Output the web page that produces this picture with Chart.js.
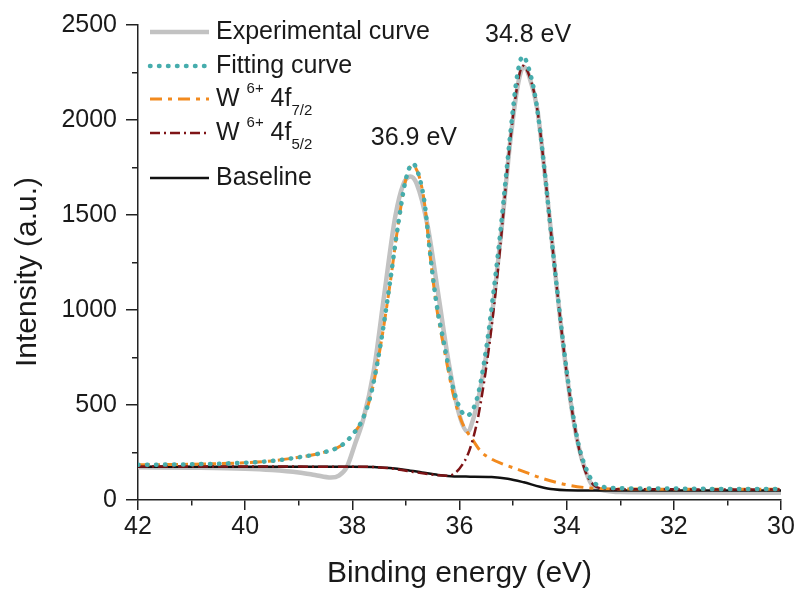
<!DOCTYPE html>
<html>
<head>
<meta charset="utf-8">
<script src="https://cdn.jsdelivr.net/npm/chart.js@4.4.1/dist/chart.umd.min.js"></script>
<style>
  body { margin: 0; background: #fff; }
  #wrap { width: 797px; height: 589px; position: relative; }
</style>
</head>
<body>
<div id="wrap"><canvas id="xpsChart"></canvas></div>
<script>
// binding energy (eV) / intensity (a.u.)
const expX = [42, 41, 40, 39.5, 39, 38.7, 38.4, 38.25, 38.1, 37.95, 37.8, 37.6, 37.4, 37.2, 37.05, 36.92, 36.8, 36.6, 36.4, 36.2, 36.0, 35.85, 35.75, 35.6, 35.4, 35.2, 35.05, 34.9, 34.8, 34.7, 34.55, 34.4, 34.2, 34.0, 33.8, 33.63, 33.5, 33.3, 33, 32, 31, 30];
const expY = [172, 170, 165, 158, 145, 132, 118, 128, 175, 295, 420, 680, 1090, 1490, 1660, 1702, 1665, 1450, 1090, 720, 445, 360, 420, 600, 960, 1470, 1895, 2200, 2280, 2230, 2060, 1700, 1160, 667, 310, 140, 70, 50, 42, 40, 38, 38];

const fitX = [42, 41, 40.2, 39.6, 39, 38.6, 38.2, 37.95, 37.8, 37.65, 37.48, 37.3, 37.15, 37.0, 36.87, 36.75, 36.65, 36.55, 36.42, 36.3, 36.12, 35.97, 35.87, 35.77, 35.65, 35.5, 35.38, 35.24, 35.05, 34.92, 34.82, 34.7, 34.55, 34.4, 34.2, 34.0, 33.8, 33.6, 33.45, 33.3, 33, 32, 31, 30];
const fitY = [185, 188, 194, 203, 225, 246, 288, 360, 430, 560, 807, 1140, 1440, 1690, 1770, 1700, 1560, 1300, 1017, 840, 590, 470, 445, 465, 560, 800, 1060, 1404, 1930, 2240, 2335, 2265, 2060, 1700, 1160, 680, 320, 140, 82, 68, 62, 60, 58, 58];

const f72X = [42, 41, 40.2, 39.6, 39, 38.6, 38.2, 37.95, 37.8, 37.65, 37.48, 37.3, 37.15, 37.0, 36.88, 36.75, 36.65, 36.55, 36.42, 36.3, 36.12, 35.97, 35.87, 35.75, 35.6, 35.4, 35.2, 34.9, 34.5, 34.0, 33.6, 33, 32, 31, 30];
const f72Y = [185, 188, 194, 203, 225, 246, 288, 360, 428, 555, 800, 1130, 1440, 1690, 1762, 1700, 1555, 1290, 1000, 815, 560, 420, 365, 315, 255, 215, 190, 160, 118, 80, 64, 58, 57, 56, 56];

const f52X = [42, 40, 38, 37.6, 37.2, 36.8, 36.4, 36.2, 36.05, 35.95, 35.85, 35.75, 35.65, 35.5, 35.38, 35.24, 35.1, 34.95, 34.82, 34.7, 34.55, 34.4, 34.2, 34.0, 33.8, 33.65, 33.5, 33.3, 33, 32, 30];
const f52Y = [176, 176, 175, 174, 163, 145, 130, 128, 150, 185, 235, 320, 440, 700, 960, 1330, 1760, 2130, 2285, 2235, 2060, 1700, 1160, 667, 310, 150, 80, 60, 57, 56, 55];

const baseX = [42, 38, 37.6, 37.3, 37.0, 36.7, 36.4, 36.1, 35.8, 35.4, 35.1, 34.8, 34.5, 34.25, 34.0, 33.5, 33, 32, 30];
const baseY = [175, 175, 174, 168, 158, 145, 132, 124, 123, 121, 112, 93, 70, 56, 51, 50, 50, 50, 50];

const peakLabels = [{ x: 36.85, y: 1905, text: '36.9 eV' }, { x: 34.72, y: 2447, text: '34.8 eV' }];

const FONT = '"Liberation Sans", Arial, sans-serif';
const gray = '#c2c2c2', teal = '#46adad', orange = '#f28a1e', darkRed = '#7e1416', black = '#111111';
const textColor = '#1a1a1a';

function pts(xs, ys) {
    return xs.map((x, i) => ({ x: x, y: ys[i] }));
}

// legend entries: line style + label pieces (main text, superscript, subscript)
const legendRows = [
    { y: 32, color: gray, width: 4.5, dash: [], cap: 'butt', parts: [['Experimental curve', 'n']] },
    { y: 66, color: teal, width: 4.5, dash: [0.5, 8.5], cap: 'round', parts: [['Fitting curve', 'n']] },
    { y: 99, color: orange, width: 3, dash: [12, 6, 4, 6], cap: 'butt', parts: [['W ', 'n'], ['6+', 'sup'], [' 4f', 'n'], ['7/2', 'sub']] },
    { y: 133, color: darkRed, width: 2.5, dash: [10, 4, 2, 4], cap: 'butt', parts: [['W ', 'n'], ['6+', 'sup'], [' 4f', 'n'], ['5/2', 'sub']] },
    { y: 178, color: black, width: 2.5, dash: [], cap: 'butt', parts: [['Baseline', 'n']] }
];

const extrasPlugin = {
    id: 'extras',
    afterDatasetsDraw(chart) {
        const ctx = chart.ctx;
        ctx.save();
        // legend
        legendRows.forEach(row => {
            ctx.beginPath();
            ctx.strokeStyle = row.color;
            ctx.lineWidth = row.width;
            ctx.lineCap = row.cap;
            ctx.setLineDash(row.dash);
            ctx.moveTo(150, row.y);
            ctx.lineTo(209, row.y);
            ctx.stroke();
            ctx.setLineDash([]);
            let tx = 216;
            ctx.fillStyle = textColor;
            ctx.textBaseline = 'middle';
            ctx.textAlign = 'left';
            row.parts.forEach(p => {
                let size = 25, dy = 0;
                if (p[1] === 'sup') { size = 15; dy = -10; }
                if (p[1] === 'sub') { size = 15; dy = 12; }
                ctx.font = size + 'px ' + FONT;
                ctx.fillText(p[0], tx, row.y + dy);
                tx += ctx.measureText(p[0]).width;
            });
        });
        // peak labels
        const xs = chart.scales.x, ys = chart.scales.y;
        ctx.font = '25px ' + FONT;
        ctx.textAlign = 'center';
        peakLabels.forEach(l => {
            ctx.fillText(l.text, xs.getPixelForValue(l.x), ys.getPixelForValue(l.y));
        });
        // y axis title
        ctx.translate(28, 272);
        ctx.rotate(-Math.PI / 2);
        ctx.font = '30px ' + FONT;
        ctx.fillText('Intensity (a.u.)', 0, 0);
        ctx.restore();
    }
};

const ctx = document.getElementById('xpsChart');
new Chart(ctx, {
    type: 'line',
    data: {
        datasets: [
            { label: 'Experimental curve', data: pts(expX, expY), borderColor: gray, borderWidth: 4.5, order: 5 },
            { label: 'Baseline', data: pts(baseX, baseY), borderColor: black, borderWidth: 2.5, order: 4 },
            { label: 'W6+ 4f7/2', data: pts(f72X, f72Y), borderColor: orange, borderWidth: 3, borderDash: [12, 6, 4, 6], order: 3 },
            { label: 'W6+ 4f5/2', data: pts(f52X, f52Y), borderColor: darkRed, borderWidth: 2.5, borderDash: [10, 4, 2, 4], order: 2 },
            { label: 'Fitting curve', data: pts(fitX, fitY), borderColor: teal, borderWidth: 4.5, borderDash: [0.5, 8.5], borderCapStyle: 'round', order: 1 }
        ]
    },
    options: {
        responsive: true,
        maintainAspectRatio: false,
        animation: false,
        parsing: false,
        elements: {
            point: { radius: 0 },
            line: { cubicInterpolationMode: 'monotone', fill: false }
        },
        layout: { padding: { top: 25, right: 16, left: 0, bottom: 0 } },
        plugins: { legend: { display: false }, tooltip: { enabled: false } },
        scales: {
            x: {
                type: 'linear',
                reverse: true,
                min: 30,
                max: 42,
                ticks: {
                    stepSize: 1,
                    autoSkip: false,
                    maxRotation: 0,
                    padding: 2,
                    color: textColor,
                    font: { family: FONT, size: 25 },
                    callback: v => (v % 2 === 0 ? v : '')
                },
                grid: {
                    drawOnChartArea: false, tickLength: 10, color: '#222', lineWidth: 1.5,
                    // minor ticks: only the inner 5px
                    tickBorderDash: c => (c.tick && c.tick.value % 2 !== 0 ? [5, 100] : [])
                },
                border: { color: '#222', width: 1.5 },
                title: { display: true, text: 'Binding energy (eV)', color: textColor, font: { family: FONT, size: 30, lineHeight: 1 }, padding: 0 },
                afterFit: s => { s.height = 89; }
            },
            y: {
                min: 0,
                max: 2500,
                ticks: {
                    stepSize: 250,
                    padding: 9,
                    color: textColor,
                    font: { family: FONT, size: 25 },
                    callback: v => (v % 500 === 0 ? v : '')
                },
                grid: {
                    drawOnChartArea: false, tickLength: 12, color: '#222', lineWidth: 1.5,
                    // left ticks are drawn outer -> inner, skip the outer 6px on minor ones
                    tickBorderDash: c => (c.tick && c.tick.value % 500 !== 0 ? [0, 6, 6, 100] : [])
                },
                border: { color: '#222', width: 1.5 },
                title: { display: false },
                afterFit: s => { s.width = 138; }
            }
        }
    },
    plugins: [extrasPlugin]
});
</script>
</body>
</html>
